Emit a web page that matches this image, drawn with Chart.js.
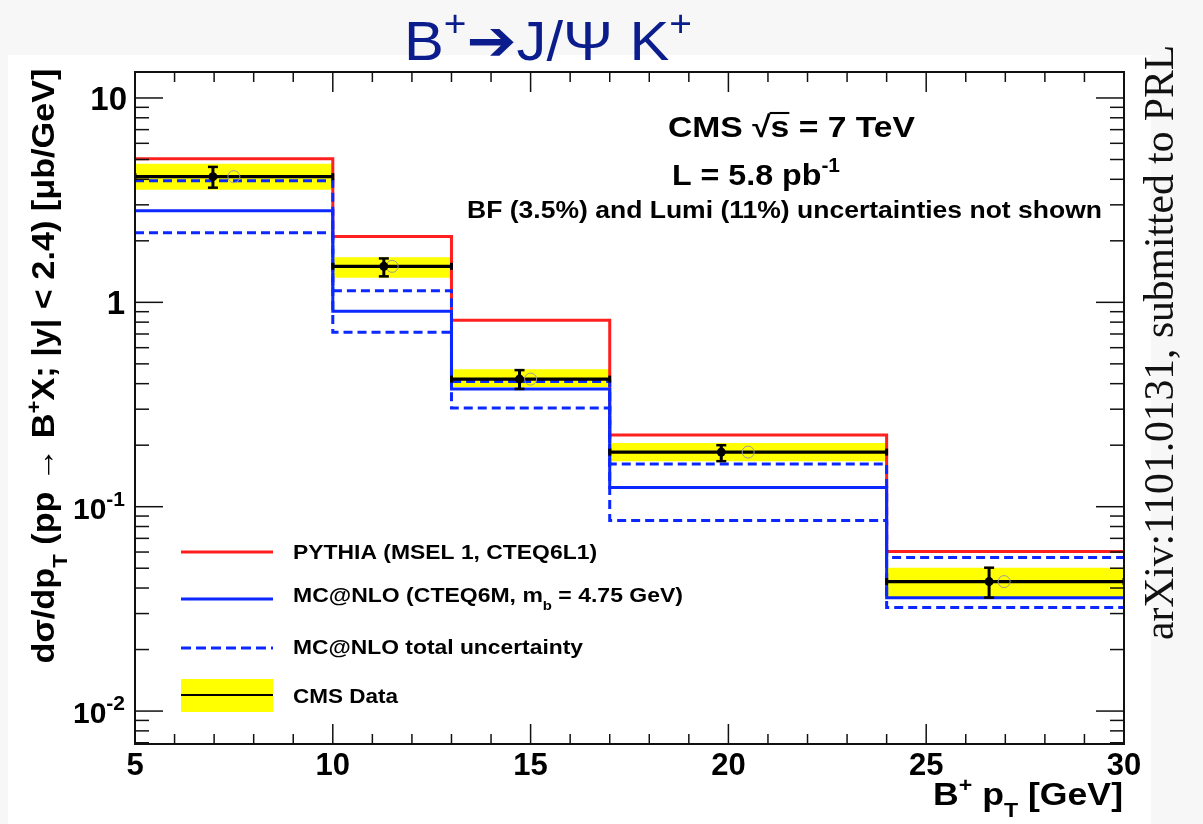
<!DOCTYPE html>
<html>
<head>
<meta charset="utf-8">
<script src="https://cdn.jsdelivr.net/npm/chart.js@4.4.0/dist/chart.umd.min.js"></script>
<style>
html, body { margin: 0; padding: 0; background: #f7f7f7; }
#wrap { position: relative; width: 1203px; height: 824px; }
</style>
</head>
<body>
<div id="wrap"><canvas id="bplus" width="1203" height="824"></canvas></div>
<script>
// pT bins [GeV]
var edges = [5, 10, 13, 17, 24, 30];
// CMS measurement, dsigma/dpT [ub/GeV]
var cmsData = [4.12, 1.50, 0.421, 0.185, 0.043];
var errHi = [4.60, 1.64, 0.466, 0.200, 0.0503];
var errLo = [3.64, 1.34, 0.377, 0.167, 0.0359];
// total uncertainty (yellow band)
var bandHi = [4.77, 1.66, 0.471, 0.205, 0.0503];
var bandLo = [3.56, 1.32, 0.385, 0.167, 0.0359];
// marker positions inside the bins
var ptMean = [6.97, 11.29, 14.72, 19.82, 26.59];
var ptCenter = [7.5, 11.5, 15.0, 20.5, 26.97];
// theory
var pythia = [5.04, 2.10, 0.817, 0.224, 0.0603];
var mcnlo = [2.81, 0.904, 0.377, 0.124, 0.0359];
var mcnloHi = [3.94, 1.14, 0.41, 0.162, 0.0564];
var mcnloLo = [2.19, 0.714, 0.304, 0.0855, 0.0321];
// axis labels
var xTicks = [5, 10, 15, 20, 25, 30];
var yTicks = [10, 1, 0.1, 0.01];

var FONT = "'Liberation Sans', Arial, sans-serif";
var RED = '#ff1f1f', BLUE = '#0a28ff';

// histogram as step line: one point per left edge plus the last right edge
function stepPoints(vals) {
  var pts = vals.map(function (v, i) { return { x: edges[i], y: v }; });
  pts.push({ x: edges[edges.length - 1], y: vals[vals.length - 1] });
  return pts;
}
// separate horizontal segments per bin
function segPoints(vals) {
  var pts = [];
  vals.forEach(function (v, i) {
    pts.push({ x: edges[i], y: v }, { x: edges[i + 1], y: v });
    if (i < vals.length - 1) pts.push({ x: edges[i + 1], y: null });
  });
  return pts;
}

// text with ^ (1), _ (-1) and overlined (2) pieces
function richWidth(ctx, parts, size, weight, fam, ratio) {
  var w = 0;
  parts.forEach(function (p) {
    var s = (p[1] === 1 || p[1] === -1) ? size * ratio : size;
    ctx.font = weight + ' ' + s + 'px ' + fam;
    w += ctx.measureText(p[0]).width;
  });
  return w;
}
function rich(ctx, parts, x, y, o) {
  var size = o.size, weight = o.weight || 'bold', fam = o.fam || FONT, ratio = o.ratio || 0.65;
  var nat = richWidth(ctx, parts, size, weight, fam, ratio);
  var sx = o.width ? o.width / nat : 1;
  var w = nat * sx;
  ctx.save();
  ctx.translate(x, y);
  if (o.rot) ctx.rotate(o.rot);
  ctx.translate(o.align === 'right' ? -w : o.align === 'center' ? -w / 2 : 0, 0);
  ctx.scale(sx, 1);
  ctx.fillStyle = o.color || '#000';
  ctx.strokeStyle = o.color || '#000';
  ctx.textAlign = 'left';
  ctx.textBaseline = 'alphabetic';
  var cx = 0;
  parts.forEach(function (p) {
    var k = p[1];
    var s = (k === 1 || k === -1) ? size * ratio : size;
    ctx.font = weight + ' ' + s + 'px ' + fam;
    var dy = k === 1 ? -size * 0.42 : k === -1 ? size * 0.4 : 0;
    var tw = ctx.measureText(p[0]).width;
    ctx.fillText(p[0], cx, dy);
    if (k === 2) {
      ctx.lineWidth = size * 0.07;
      ctx.beginPath();
      ctx.moveTo(cx - size * 0.03, -size * 0.8);
      ctx.lineTo(cx + tw, -size * 0.8);
      ctx.stroke();
    }
    cx += tw;
  });
  ctx.restore();
}

function line(ctx, x1, y1, x2, y2) {
  ctx.beginPath();
  ctx.moveTo(x1, y1);
  ctx.lineTo(x2, y2);
  ctx.stroke();
}

var decor = {
  id: 'decor',
  beforeDraw: function (chart) {
    var ctx = chart.ctx;
    ctx.save();
    ctx.fillStyle = '#f7f7f7';
    ctx.fillRect(0, 0, chart.width, chart.height);
    ctx.fillStyle = '#ffffff';
    ctx.fillRect(8, 55, 1143, 769);
    ctx.restore();
  },
  afterDatasetsDraw: function (chart) {
    var ctx = chart.ctx, a = chart.chartArea;
    var xs = chart.scales.x, ys = chart.scales.y;
    ctx.save();

    // statistical error bars
    ctx.strokeStyle = '#000';
    ptMean.forEach(function (m, i) {
      var px = xs.getPixelForValue(m);
      var y1 = ys.getPixelForValue(errHi[i]), y2 = ys.getPixelForValue(errLo[i]);
      ctx.lineWidth = 3;
      line(ctx, px, y1, px, y2);
      ctx.lineWidth = 2.5;
      line(ctx, px - 5, y1, px + 5, y1);
      line(ctx, px - 5, y2, px + 5, y2);
    });

    // frame and inward ticks
    ctx.strokeStyle = '#111';
    ctx.lineWidth = 2;
    ctx.strokeRect(a.left, a.top, a.right - a.left, a.bottom - a.top);
    ctx.lineWidth = 1.5;
    for (var v = 5; v <= 30; v++) {
      var px = xs.getPixelForValue(v);
      var len = v % 5 === 0 ? 20 : 10;
      line(ctx, px, a.bottom, px, a.bottom - len);
      line(ctx, px, a.top, px, a.top + len);
    }
    for (var k = -3; k <= 1; k++) {
      for (var m = 1; m <= 9; m++) {
        var val = m * Math.pow(10, k);
        if (val < ys.min || val > ys.max) continue;
        var py = ys.getPixelForValue(val);
        var tl = m === 1 ? 28 : 14;
        line(ctx, a.left, py, a.left + tl, py);
        line(ctx, a.right, py, a.right - tl, py);
      }
    }

    // tick labels
    xTicks.forEach(function (t) {
      rich(ctx, [[String(t), 0]], xs.getPixelForValue(t), 775, { size: 31, align: 'center' });
    });
    yTicks.forEach(function (t) {
      var e = Math.round(Math.log10(t));
      var py = ys.getPixelForValue(t);
      if (e === 1) rich(ctx, [['10', 0]], 127, py + 12, { size: 33, align: 'right' });
      else if (e === 0) rich(ctx, [['1', 0]], 125, py + 12, { size: 33, align: 'right' });
      else rich(ctx, [['10', 0], ['-' + (-e), 1]], 125, py + 12, { size: 30, align: 'right', ratio: 0.7 });
    });

    // axis titles
    rich(ctx, [['B', 0], ['+', 1], [' p', 0], ['T', -1], [' [GeV]', 0]], 1123, 805,
      { size: 31, align: 'right', width: 190 });
    rich(ctx, [['d\u03c3/dp', 0], ['T', -1], [' (pp \u2192 B', 0], ['+', 1], ['X; |y| < 2.4) [\u03bcb/GeV]', 0]],
      54, 366, { size: 32, align: 'center', width: 595, rot: -Math.PI / 2 });

    // annotations
    rich(ctx, [['CMS \u221a', 0], ['s', 2], [' = 7 TeV', 0]], 668, 137, { size: 30, width: 247 });
    rich(ctx, [['L = 5.8 pb', 0], ['-1', 1]], 672, 185, { size: 30, width: 168 });
    rich(ctx, [['BF (3.5%) and Lumi (11%) uncertainties not shown', 0]], 1102, 218,
      { size: 24, align: 'right', width: 635 });

    // legend
    var lx1 = 181, lx2 = 273, tx = 293;
    ctx.lineWidth = 3;
    ctx.strokeStyle = RED;
    line(ctx, lx1, 552, lx2, 552);
    rich(ctx, [['PYTHIA (MSEL 1, CTEQ6L1)', 0]], tx, 559, { size: 20, width: 304 });
    ctx.strokeStyle = BLUE;
    line(ctx, lx1, 599, lx2, 599);
    rich(ctx, [['MC@NLO (CTEQ6M, m', 0], ['b', -1], [' = 4.75 GeV)', 0]], tx, 602, { size: 20, width: 390 });
    ctx.setLineDash([10, 5]);
    line(ctx, lx1, 648, lx2, 648);
    ctx.setLineDash([]);
    rich(ctx, [['MC@NLO total uncertainty', 0]], tx, 654, { size: 20, width: 290 });
    ctx.fillStyle = '#ffff00';
    ctx.fillRect(lx1, 679, lx2 - lx1, 33);
    ctx.strokeStyle = '#000';
    ctx.lineWidth = 2;
    line(ctx, lx1, 695, lx2, 695);
    rich(ctx, [['CMS Data', 0]], tx, 703, { size: 20, width: 105 });

    // heading and side note
    rich(ctx, [['B', 0], ['+', 1], ['\u2794J/\u03a8 K', 0], ['+', 1]], 548, 60,
      { size: 56, weight: 'normal', color: '#0b1c8c', align: 'center', width: 288,
        fam: "'Liberation Sans', 'DejaVu Sans', sans-serif" });
    rich(ctx, [['arXiv:1101.0131, submitted to PRL', 0]], 1173, 640,
      { size: 42, weight: 'normal', fam: "'Liberation Serif', 'Times New Roman', serif",
        width: 595, rot: -Math.PI / 2, color: '#111' });

    ctx.restore();
  }
};

function stepLine(vals, color, dash, order) {
  return {
    data: stepPoints(vals),
    stepped: 'before',
    borderColor: color,
    borderWidth: 3,
    borderDash: dash,
    pointRadius: 0,
    fill: false,
    order: order
  };
}

var ctx = document.getElementById('bplus').getContext('2d');
new Chart(ctx, {
  type: 'line',
  data: {
    datasets: [
      { data: stepPoints(bandHi), stepped: 'before', borderColor: 'rgba(0,0,0,0)', borderWidth: 1,
        backgroundColor: '#ffff00', fill: '+1', pointRadius: 0, order: 10 },
      { data: stepPoints(bandLo), stepped: 'before', borderColor: 'rgba(0,0,0,0)', borderWidth: 1,
        fill: false, pointRadius: 0, order: 11 },
      stepLine(pythia, RED, [], 6),
      stepLine(mcnlo, BLUE, [], 5),
      stepLine(mcnloHi, BLUE, [9, 5], 4),
      stepLine(mcnloLo, BLUE, [9, 5], 3),
      { data: segPoints(cmsData), borderColor: '#000', borderWidth: 3.3, spanGaps: false,
        pointStyle: 'line', pointRotation: 90, pointRadius: 3.5, pointBorderWidth: 3,
        pointBorderColor: '#000', fill: false, order: 2 },
      { type: 'scatter', data: ptCenter.map(function (x, i) { return { x: x, y: cmsData[i] }; }),
        pointRadius: 6, pointBorderWidth: 1, pointBorderColor: '#9a9a9a',
        pointBackgroundColor: 'rgba(0,0,0,0)', order: 1 },
      { type: 'scatter', data: ptMean.map(function (x, i) { return { x: x, y: cmsData[i] }; }),
        pointRadius: 4.5, pointBorderWidth: 0, pointBackgroundColor: '#000', order: 0 }
    ]
  },
  options: {
    responsive: false,
    animation: false,
    layout: { padding: { left: 135, top: 72, right: 79, bottom: 80 } },
    scales: {
      x: { type: 'linear', min: 5, max: 30, display: false },
      y: { type: 'logarithmic', min: 0.0069, max: 13.4, display: false }
    },
    plugins: {
      legend: { display: false },
      tooltip: { enabled: false }
    }
  },
  plugins: [decor]
});
</script>
</body>
</html>
